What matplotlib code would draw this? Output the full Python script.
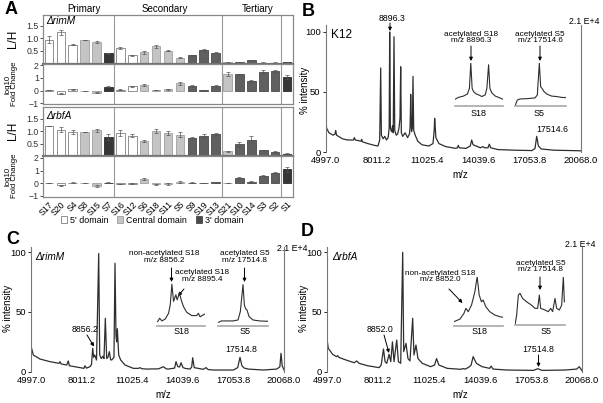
import matplotlib
matplotlib.use('Agg')
import matplotlib.pyplot as plt
from matplotlib.patches import Patch

plt.rcParams['font.family'] = ['Liberation Sans', 'DejaVu Sans']

W, H = 603, 403

# ---- panel A data ----
proteins = ['S17', 'S20', 'S4', 'S8', 'S15', 'S7', 'S16', 'S12', 'S6', 'S18', 'S11',
            'S5', 'S9', 'S19', 'S13', 'S21', 'S10', 'S14', 'S3', 'S2', 'S1']
domains = ['5', '5', '5', 'C', 'C', '3d', '5', '5', 'C', 'C', 'C',
           'C', '3', '3', '3', 'C', '3', '3', '3', '3', '3d']
groups = ['Primary', 'Secondary', 'Tertiary']

rimM_lh = [0.95, 1.23, 0.75, 0.95, 0.86, 0.40, 0.61, 0.32, 0.44, 0.69, 0.50,
           0.23, 0.32, 0.52, 0.42, 0.04, 0.06, 0.13, 0.03, 0.03, 0.06]
rimM_lh_err = [0.12, 0.10, 0.02, 0.0, 0.05, 0.02, 0.05, 0.03, 0.05, 0.06, 0.02,
               0.03, 0.02, 0.04, 0.02, 0.01, 0.01, 0.01, 0.01, 0.01, 0.01]
rimM_fc = [0.05, -0.22, 0.11, 0.0, -0.15, 0.31, 0.07, 0.33, 0.42, 0.05, 0.13,
           0.58, 0.37, 0.04, 0.33, 1.31, 1.28, 0.78, 1.49, 1.54, 1.07]
rimM_fc_err = [0.02, 0.04, 0.03, 0.0, 0.04, 0.05, 0.04, 0.05, 0.07, 0.03, 0.04,
               0.12, 0.05, 0.03, 0.10, 0.12, 0.03, 0.07, 0.10, 0.10, 0.15]
rbfA_lh = [1.20, 1.07, 0.97, 0.99, 1.04, 0.78, 0.92, 0.82, 0.61, 1.00, 0.92,
           0.86, 0.74, 0.80, 0.88, 0.19, 0.47, 0.66, 0.24, 0.17, 0.09]
rbfA_lh_err = [0.0, 0.10, 0.10, 0.0, 0.05, 0.12, 0.13, 0.05, 0.05, 0.09, 0.09,
               0.09, 0.02, 0.08, 0.03, 0.03, 0.08, 0.13, 0.01, 0.02, 0.02]
rbfA_fc = [0.01, -0.16, 0.06, 0.0, -0.23, 0.06, -0.05, -0.03, 0.34, -0.08, -0.07,
           0.08, 0.04, 0.0, 0.07, 0.0, 0.42, 0.11, 0.60, 0.83, 1.10]
rbfA_fc_err = [0.02, 0.05, 0.04, 0.0, 0.06, 0.05, 0.03, 0.03, 0.05, 0.06, 0.06,
               0.08, 0.03, 0.0, 0.07, 0.0, 0.10, 0.10, 0.04, 0.04, 0.20]

# ---- spectra (m/z, % intensity) ----
k12_mz = [4997, 5010, 5060, 5200, 5450, 5560, 5600, 5650, 6000, 6300, 6650, 6700, 6760,
          7100, 7136, 7180, 7500, 7900, 8100, 8200, 8259, 8300, 8400, 8500, 8600, 8700,
          8760, 8791, 8830, 8900, 8960, 9000, 9045, 9090, 9180, 9260, 9340, 9400, 9441,
          9480, 9560, 9700, 9850, 9960, 10000, 10033, 10080, 10130, 10168, 10210, 10300,
          10450, 10700, 11100, 11350, 11420, 11450, 11520, 11700, 12100, 12700, 12790,
          12846, 12900, 13300, 13550, 13637, 13720, 13900, 14150, 14287, 14400, 14600,
          14678, 14760, 15200, 16200, 17200, 17380, 17479, 17580, 17750, 18500, 19500, 20068]
k12_int = [3, 29, 20, 16, 14, 15, 18, 14, 11, 10, 10, 12, 10,
           9, 10.5, 8.5, 7, 5.5, 5, 10, 70, 14, 11, 13, 10, 12,
           20, 100, 20, 17, 22, 16, 96, 18, 14, 15, 20, 28, 71,
           16, 13, 16, 12, 15, 22, 48, 17, 20, 63, 18, 14,
           9, 6, 5, 7, 18, 28, 12, 7, 4.5, 3, 3.5,
           5.5, 3.5, 3, 5, 10, 6, 5, 3.5, 4.5, 3.5, 3.5,
           6.5, 3.5, 2, 1.5, 1.2, 3, 13, 5, 2.5, 1.5, 1.2, 1]

rimM_mz = [4997, 5005, 5134, 5533, 6129, 6660, 6724, 6790, 7124, 7219, 7280, 7916, 8150,
           8214, 8300, 8512, 8600, 8672, 8730, 8790, 8900, 9030, 9089, 9186, 9280, 9346,
           9425, 9506, 9580, 9663, 9740, 9804, 9940, 10001, 10060, 10100, 10140, 10221,
           10340, 10597, 11093, 11400, 11490, 11600, 11889, 12600, 12878, 13050, 13176,
           13550, 13635, 13740, 13850, 13933, 14050, 14171, 14469, 14570, 14628, 14720,
           15261, 15422, 15550, 15857, 17048, 17309, 17447, 17560, 17700, 17941, 18835,
           19633, 19820, 19889, 19960, 20068]
rimM_int = [3, 21, 14, 10.6, 8.4, 7, 8.4, 6.5, 5.6, 9, 5, 3.4, 2.8,
            5, 3, 4.2, 6, 19.6, 12, 14, 9.8, 99, 14, 11, 13, 11,
            44.7, 11, 12, 16.8, 10, 9.8, 12, 90.8, 30, 25, 36, 14,
            9.8, 5.6, 2.8, 2.8, 3.4, 2.5, 2.2, 2.4, 4.2, 2.4, 2.2,
            3, 8.4, 4.2, 4, 7.5, 3.5, 2.8, 2.2, 4, 11.7, 3.4,
            2, 3.4, 1.8, 1.4, 1.4, 3.4, 12, 5, 3, 2.2, 1.4,
            2.2, 4, 15.4, 5, 1.5]

rbfA_mz = [4997, 5005, 5073, 5332, 5560, 5627, 5700, 6016, 6604, 6745, 6898, 7393, 8076,
           8200, 8335, 8429, 8529, 8665, 8765, 8865, 8959, 9118, 9218, 9353, 9471, 9530,
           9665, 9783, 9901, 10060, 10138, 10256, 10374, 10631, 11119, 11355, 11473, 11608,
           12102, 12900, 13044, 13180, 13400, 13515, 13633, 13827, 14163, 14610, 14693,
           14810, 15635, 17201, 17460, 17696, 19067, 19755, 19908, 20050]
rbfA_int = [3, 26.5, 19.6, 14.5, 12.6, 13.4, 12, 10.3, 7.5, 9, 7, 5, 3.4,
            5.6, 19, 8.4, 7, 14.5, 8.4, 25, 8.4, 26.5, 8.4, 7, 100, 16.8,
            23.7, 11, 9, 44.7, 14, 22.3, 11, 7, 4.2, 5.6, 11, 5.6,
            2.8, 2, 2.6, 2.2, 4, 5.6, 12.6, 7, 4.2, 2.8, 4.7,
            2.2, 1.4, 1.1, 2.5, 1.1, 1.4, 2.2, 4.2, 1.1]

mz_ticks = [4997.0, 8011.2, 11025.4, 14039.6, 17053.8, 20068.0]

# insets: relative position (%) and intensity (%)
k12_s18_x = [0, 7, 17.5, 25.9, 30, 32.9, 35.7, 38.5, 44, 49, 56, 63, 66.4, 70, 72.7, 77, 84, 91, 100]
k12_s18_y = [15.6, 20, 23, 28, 41, 100, 41, 33.6, 28, 26, 22, 26, 41, 96, 41, 30, 23, 20, 15.6]
k12_s5_x = [0, 4.6, 9.8, 22.9, 39.2, 43.8, 47.7, 50.3, 52.9, 56.9, 62, 71.9, 81.7, 91.5, 100]
k12_s5_y = [0, 14, 16.4, 17, 18.8, 25.8, 100, 45, 41, 33.6, 28, 23, 22, 20, 19.5]
rimM_s18_x = [1.4, 5.5, 10.3, 17.2, 24.1, 27.6, 31, 34.5, 39.3, 42, 46.9, 50.3, 55.2, 62, 72.4, 82.8, 86.2, 89.7, 100]
rimM_s18_y = [10, 17.6, 11.5, 16, 29, 48, 95, 56, 71, 59.5, 75, 59.5, 44, 31, 23.7, 23.7, 29, 21, 27.5]
rimM_s5_x = [1.3, 6.7, 30, 40, 44.7, 50, 52.7, 55.3, 58, 62, 70, 83.3, 100]
rimM_s5_y = [8.4, 11.5, 11.5, 13.7, 33, 94, 48, 39, 36.6, 21.4, 13.7, 11.5, 10.7]
rbfA_s18_x = [0, 12.2, 20.3, 24.3, 29, 35.8, 42.6, 47.3, 51.4, 56, 59.5, 64.9, 73, 83.1, 93.2, 100]
rbfA_s18_y = [8.8, 14, 25.7, 35.8, 29, 42.6, 69.6, 100, 62.8, 49, 52.7, 39, 29, 22.3, 19, 17.6]
rbfA_s5_x = [0, 3.3, 6.7, 10, 15.3, 23.3, 33.3, 40, 45.3, 48.7, 51.3, 60, 66.7, 71.3, 75.3,
             80, 83.3, 88.7, 93.3, 96.7, 98.7, 100]
rbfA_s5_y = [0, 20.7, 62, 65.5, 55, 48, 41, 34.5, 34.5, 62, 34.5, 31, 27.6, 34.5, 27.6,
             55, 34.5, 31, 41, 100, 48, 48]


def box(x0, top, x1, bot):
    return [x0 / W, 1 - bot / H, (x1 - x0) / W, (bot - top) / H]


def fp(x, y):
    return (x / W, 1 - y / H)


fig = plt.figure(figsize=(6.03, 4.03), dpi=100)


def ftext(x, y, s, **kw):
    kw.setdefault('ha', 'center')
    kw.setdefault('va', 'center')
    fig.text(x / W, 1 - y / H, s, **kw)


def arrow(ax, start, tip):
    ax.annotate('', xy=fp(*tip), xytext=fp(*start), xycoords='figure fraction',
                textcoords='figure fraction', annotation_clip=False,
                arrowprops=dict(arrowstyle='-|>', color='black', lw=0.7,
                                mutation_scale=5, shrinkA=0, shrinkB=0))


# ---------- panel A ----------
fill = {'5': 'white', 'C': '#c4c4c4', '3': '#606060', '3d': '#363636'}
edge = {'5': '#808080', 'C': '#a0a0a0', '3': '#4a4a4a', '3d': '#2a2a2a'}
bar_fc = [fill[d] for d in domains]
bar_ec = [edge[d] for d in domains]
xs = list(range(len(proteins)))

panelA = [
    (box(43, 15, 293, 63.5), rimM_lh, rimM_lh_err, (0, 1.92), 'lh'),
    (box(43, 63.5, 293, 104), rimM_fc, rimM_fc_err, (-1.04, 2.13), 'fc'),
    (box(43, 107, 293, 156), rbfA_lh, rbfA_lh_err, (0, 1.98), 'lh'),
    (box(43, 156, 293, 197), rbfA_fc, rbfA_fc_err, (-1.08, 2.15), 'fc'),
]
axesA = []
for pos, vals, err, ylim, kind in panelA:
    ax = fig.add_axes(pos)
    ax.bar(xs, vals, width=0.72, color=bar_fc, edgecolor=bar_ec, linewidth=0.6,
           yerr=err, error_kw=dict(elinewidth=0.5, capsize=1.5, capthick=0.5, ecolor='#555555'))
    ax.set_xlim(-0.5, len(proteins) - 0.5)
    ax.set_ylim(*ylim)
    for xv in (5.5, 14.5, 19.5):
        ax.axvline(xv, color='#9a9a9a', lw=0.8)
    for sp in ax.spines.values():
        sp.set_color('#888888')
        sp.set_linewidth(0.9)
    if kind == 'lh':
        ax.set_yticks([0.5, 1.0, 1.5])
        ax.set_yticklabels(['0.5', '1.0', '1.5'])
        ax.spines['bottom'].set_linewidth(1.6)
        ax.spines['bottom'].set_color('#707070')
    else:
        ax.set_yticks([-1, 0, 1, 2])
    ax.tick_params(axis='y', labelsize=6.3, length=2, width=0.6, pad=1, colors='#333333')
    ax.tick_params(axis='x', length=0)
    ax.set_xticks(xs)
    ax.set_xticklabels([])
    axesA.append(ax)

axesA[-1].set_xticklabels(proteins, rotation=45, ha='right', rotation_mode='anchor', fontsize=6.3)
axesA[-1].tick_params(axis='x', pad=2)

ftext(84, 9, groups[0], fontsize=7)
ftext(165, 9, groups[1], fontsize=7)
ftext(258, 9, groups[2], fontsize=7)
ftext(46, 21.5, '\u0394rimM', fontsize=7.3, style='italic', ha='left')
ftext(46, 116, '\u0394rbfA', fontsize=7.3, style='italic', ha='left')
for yc in (39, 131):
    ftext(13, yc, 'L/H', fontsize=8.5, rotation=90)
for yc in (84, 176):
    ftext(11, yc, 'log10\nFold Change', fontsize=5.6, rotation=90, linespacing=1.0)
ftext(11, 9, 'A', fontsize=13, fontweight='bold')

handles = [Patch(facecolor='white', edgecolor='#808080', lw=0.6),
           Patch(facecolor='#c4c4c4', edgecolor='#a0a0a0', lw=0.6),
           Patch(facecolor='#4a4a4a', edgecolor='#4a4a4a', lw=0.6)]
fig.legend(handles, ["5' domain", 'Central domain', "3' domain"], loc='center',
           bbox_to_anchor=fp(152, 220), ncol=3, frameon=False, fontsize=6.4,
           handlelength=0.7, handleheight=0.7, handletextpad=0.3, columnspacing=1.0)


# ---------- spectra ----------
def spectrum(pos, mz, inten, top):
    ax = fig.add_axes(pos)
    ax.plot(mz, inten, color='#2e2e2e', lw=0.9)
    ax.set_xlim(mz_ticks[0], mz_ticks[-1])
    ax.set_ylim(0, top)
    ax.spines['top'].set_visible(False)
    ax.spines['bottom'].set_visible(False)
    ax.spines['left'].set_color('#777777')
    ax.spines['right'].set_color('#777777')
    ax.spines['left'].set_linewidth(0.8)
    ax.spines['right'].set_linewidth(0.8)
    ax.set_xticks(mz_ticks)
    ax.set_xticklabels(['%.1f' % t for t in mz_ticks])
    ax.set_yticks([0, 50, 100])
    ax.tick_params(axis='x', length=0, labelsize=6.8, pad=3)
    ax.tick_params(axis='y', length=2.5, width=0.6, labelsize=6.8, pad=1)
    return ax


def inset(pos, x, y):
    ax = fig.add_axes(pos)
    ax.plot(x, y, color='#2e2e2e', lw=0.8)
    ax.set_xlim(0, 100)
    ax.set_ylim(0, 100)
    for side in ('top', 'left', 'right'):
        ax.spines[side].set_visible(False)
    ax.spines['bottom'].set_color('#a8a8a8')
    ax.spines['bottom'].set_linewidth(1.2)
    ax.set_xticks([])
    ax.set_yticks([])
    ax.patch.set_alpha(0)
    return ax


# B
axB = spectrum(box(325.5, 25, 580.5, 152), k12_mz, k12_int, 105.8)
inset(box(455, 63, 503, 106), k12_s18_x, k12_s18_y)
inset(box(515, 63, 566, 106), k12_s5_x, k12_s5_y)
ftext(308, 12, 'B', fontsize=13, fontweight='bold')
ftext(342, 35, 'K12', fontsize=8.5)
ftext(584, 22, '2.1 E+4', fontsize=6.3)
ftext(392, 18.5, '8896.3', fontsize=6.3)
arrow(axB, (390, 23), (390, 31))
ftext(471, 37.5, 'acetylated S18\nm/z 8896.3', fontsize=5.9, linespacing=0.95)
arrow(axB, (471, 46), (471, 61))
ftext(540, 37.5, 'acetylated S5\nm/z 17514.6', fontsize=5.9, linespacing=0.95)
arrow(axB, (540, 46), (540, 61))
ftext(552, 129.5, '17514.6', fontsize=6.3)
ftext(479, 113, 'S18', fontsize=6.5)
ftext(539, 113, 'S5', fontsize=6.5)
ftext(305, 90, '% intensity', fontsize=7, rotation=90)
ftext(460, 175, 'm/z', fontsize=7)

# C
axC = spectrum(box(31, 247, 284, 371.7), rimM_mz, rimM_int, 104.4)
inset(box(157, 282, 205, 326), rimM_s18_x, rimM_s18_y)
inset(box(218, 282, 268, 326), rimM_s5_x, rimM_s5_y)
ftext(13, 240, 'C', fontsize=13, fontweight='bold')
ftext(35, 256.5, '\u0394rimM', fontsize=7.3, style='italic', ha='left')
ftext(292, 249, '2.1 E+4', fontsize=6.3)
ftext(164, 257, 'non-acetylated S18\nm/z 8856.2', fontsize=5.9, linespacing=0.95)
arrow(axC, (171.5, 268), (171.5, 282))
ftext(202, 276, 'acetylated S18\nm/z 8895.4', fontsize=5.9, linespacing=0.95)
arrow(axC, (184, 289), (178, 296))
ftext(244.5, 257, 'acetylated S5\nm/z 17514.8', fontsize=5.9, linespacing=0.95)
arrow(axC, (244.5, 268), (244.5, 282))
ftext(85, 330, '8856.2', fontsize=6.3)
arrow(axC, (87, 335), (94, 346.5))
ftext(241, 350, '17514.8', fontsize=6.3)
ftext(182, 332, 'S18', fontsize=6.5)
ftext(245, 332, 'S5', fontsize=6.5)
ftext(8, 308, '% intensity', fontsize=7, rotation=90)
ftext(163, 395, 'm/z', fontsize=7)

# D
axD = spectrum(box(327, 247, 582, 371.7), rbfA_mz, rbfA_int, 104.4)
inset(box(454, 276.7, 503, 326), rbfA_s18_x, rbfA_s18_y)
inset(box(515, 276.7, 565, 325), rbfA_s5_x, rbfA_s5_y)
ftext(307, 232, 'D', fontsize=13, fontweight='bold')
ftext(332, 256.5, '\u0394rbfA', fontsize=7.3, style='italic', ha='left')
ftext(580, 244, '2.1 E+4', fontsize=6.3)
ftext(440, 276.5, 'non-acetylated S18\nm/z 8852.0', fontsize=5.9, linespacing=0.95)
arrow(axD, (449, 289), (462.5, 303))
ftext(541, 266.5, 'acetylated S5\nm/z 17514.8', fontsize=5.9, linespacing=0.95)
arrow(axD, (540, 277), (540, 290))
ftext(380, 329, '8852.0', fontsize=6.3)
arrow(axD, (384, 335), (389, 353))
ftext(538.5, 349.5, '17514.8', fontsize=6.3)
arrow(axD, (538.5, 355), (538.5, 367))
ftext(480, 332, 'S18', fontsize=6.5)
ftext(546.5, 332, 'S5', fontsize=6.5)
ftext(304, 308, '% intensity', fontsize=7, rotation=90)
ftext(460, 395, 'm/z', fontsize=7)

fig.savefig('out.png', dpi=100)
